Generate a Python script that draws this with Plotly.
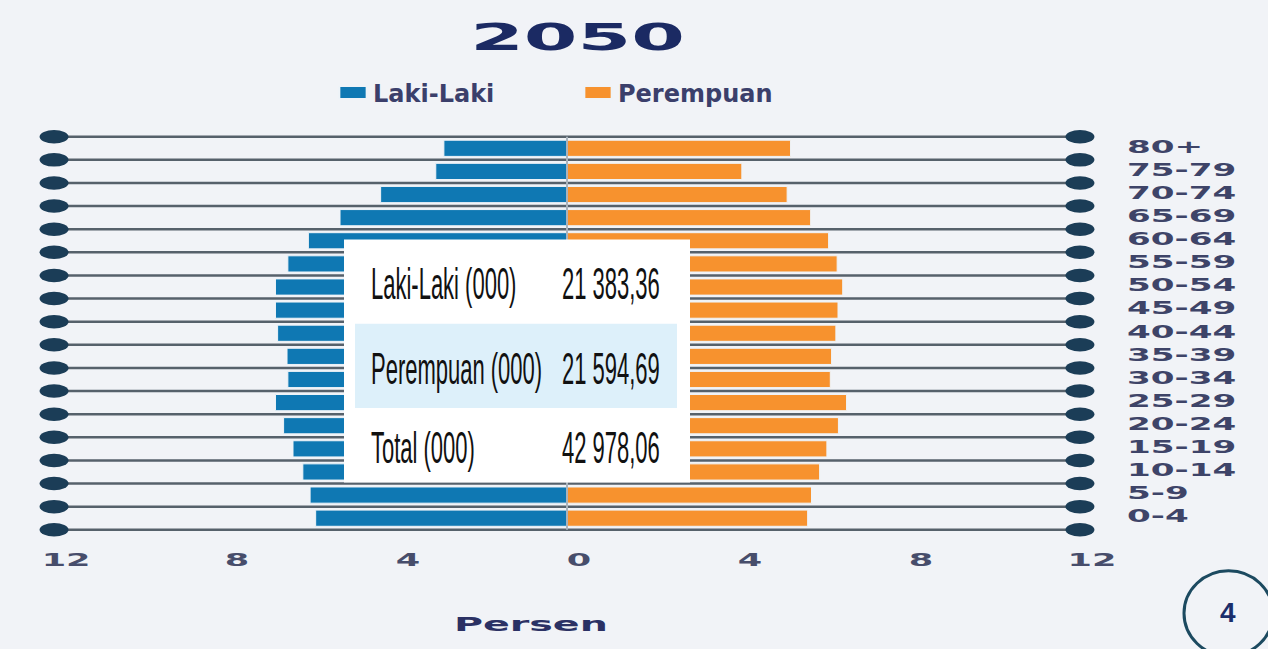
import json
import plotly.graph_objects as go

# ---------------- data ----------------
age_groups = ["0-4", "5-9", "10-14", "15-19", "20-24", "25-29", "30-34", "35-39",
              "40-44", "45-49", "50-54", "55-59", "60-64", "65-69", "70-74", "75-79", "80+"]
male_pct = [5.88, 6.01, 6.18, 6.41, 6.63, 6.82, 6.53, 6.55,
            6.77, 6.82, 6.82, 6.53, 6.05, 5.31, 4.36, 3.07, 2.88]
female_pct = [5.63, 5.72, 5.91, 6.08, 6.35, 6.54, 6.16, 6.19,
              6.29, 6.34, 6.45, 6.32, 6.12, 5.70, 5.15, 4.09, 5.23]
x_tickvals = [-12, -8, -4, 0, 4, 8, 12]
x_ticktext = ["12", "8", "4", "0", "4", "8", "12"]
table_labels = ["Laki-Laki (000)", "Perempuan (000)", "Total (000)"]
table_values = ["21 383,36", "21 594,69", "42 978,06"]
title_text = "2050"
x_title = "Persen"
page_no = "4"

# ---------------- layout geometry ----------------
FW, FH = 1268, 649
ML, MR, MT, MB = 22, 156, 124, 110
PW, PH = FW - ML - MR, FH - MT - MB
XR = [-12.75, 12.75]
YR = [-0.9, 16.9]

def px2x(px):
    return (px - ML) / PW

def py2y(py):
    return 1 - (py - MT) / PH

BLUE = "#0f78b3"
ORANGE = "#f7922e"
NAVY = "#1b2a63"
DOT = "#1b3d57"
GRID = "#56616b"
BOLD = "DejaVu Sans"

idx = list(range(len(age_groups)))

fig = go.Figure()
fig.add_trace(go.Bar(
    y=idx, x=[-v for v in male_pct], orientation="h", name="Laki-Laki",
    marker=dict(color=BLUE, line=dict(color="#eef3f8", width=1)), width=0.7,
    customdata=male_pct, hovertemplate="%{customdata}%<extra>Laki-Laki</extra>",
    legend="legend",
))
fig.add_trace(go.Bar(
    y=idx, x=female_pct, orientation="h", name="Perempuan",
    marker=dict(color=ORANGE, line=dict(color="#eef3f8", width=1)), width=0.7,
    hovertemplate="%{x}%<extra>Perempuan</extra>",
    legend="legend2",
))

shapes = []
n = len(age_groups)
bounds = [i - 0.5 for i in range(n + 1)]
for yb in bounds:
    shapes.append(dict(type="line", xref="x", yref="y", x0=-12, x1=12, y0=yb, y1=yb,
                       line=dict(color=GRID, width=2.5), layer="below"))
# centre line
shapes.append(dict(type="line", xref="x", yref="y", x0=0, x1=0, y0=bounds[0], y1=bounds[-1],
                   line=dict(color="#a9b3bd", width=2), layer="above"))
# end dots (ellipses)
hw, hh = 14.5 / (PW / (XR[1] - XR[0])), 6.8 / (PH / (YR[1] - YR[0]))
for yb in bounds:
    for xe in (-12, 12):
        shapes.append(dict(type="circle", xref="x", yref="y", x0=xe - hw, x1=xe + hw,
                           y0=yb - hh, y1=yb + hh, fillcolor=DOT, line=dict(width=0),
                           layer="above"))
# table overlay
shapes.append(dict(type="rect", xref="paper", yref="paper", x0=px2x(344), x1=px2x(690),
                   y0=py2y(482), y1=py2y(237), fillcolor="white", line=dict(width=0), layer="above"))
shapes.append(dict(type="rect", xref="paper", yref="paper", x0=px2x(355), x1=px2x(677),
                   y0=py2y(407), y1=py2y(322), fillcolor="#ddf0fa", line=dict(width=0), layer="above"))
# page number circle
shapes.append(dict(type="circle", xref="paper", yref="paper", x0=px2x(1184), x1=px2x(1273),
                   y0=py2y(657), y1=py2y(571), fillcolor="rgba(0,0,0,0)",
                   line=dict(color="#1c4a60", width=3), layer="above"))

annotations = []
ann_k = []
row_y = [281, 367, 447]
for lab, val, ry in zip(table_labels, table_values, row_y):
    annotations.append(dict(text=lab, xref="paper", yref="paper", x=px2x(369), y=py2y(ry),
                            xanchor="left", yanchor="middle", align="left", showarrow=False,
                            font=dict(family="Liberation Sans", size=44, color="#111111")))
    ann_k.append(0.5)
    annotations.append(dict(text=val, xref="paper", yref="paper", x=px2x(560), y=py2y(ry),
                            xanchor="left", yanchor="middle", align="left", showarrow=False,
                            font=dict(family="Liberation Sans", size=44, color="#111111")))
    ann_k.append(0.5)
annotations.append(dict(text=x_title, xref="paper", yref="paper", x=px2x(531), y=py2y(624.5),
                        xanchor="center", yanchor="middle", showarrow=False,
                        font=dict(family=BOLD, size=20, color="#2b3164", weight="bold")))
ann_k.append(1.98)
annotations.append(dict(text=page_no, xref="paper", yref="paper", x=px2x(1228), y=py2y(613),
                        xanchor="center", yanchor="middle", showarrow=False,
                        font=dict(family="Liberation Sans", size=28, color="#1b2e6b", weight="bold")))
ann_k.append(1.0)

legend_common = dict(orientation="h", xref="container", yref="container", yanchor="middle",
                     xanchor="left", bgcolor="rgba(0,0,0,0)", borderwidth=0,
                     font=dict(family=BOLD, size=24, color="#3b3f6b", weight="bold"))

fig.update_layout(
    width=FW, height=FH,
    margin=dict(l=ML, r=MR, t=MT, b=MB, pad=0),
    paper_bgcolor="#f1f3f7", plot_bgcolor="rgba(0,0,0,0)",
    barmode="relative", bargap=0.3,
    title=dict(text=title_text, x=577.5 / FW, xref="container", xanchor="center",
               y=1 - 37 / FH, yref="container", yanchor="middle",
               font=dict(family=BOLD, size=38, color=NAVY, weight="bold")),
    showlegend=True,
    legend=dict(x=333 / FW, y=1 - 93 / FH, **legend_common),
    legend2=dict(x=578 / FW, y=1 - 93 / FH, **legend_common),
    xaxis=dict(range=XR, tickvals=x_tickvals, ticktext=x_ticktext, showgrid=False,
               zeroline=False, showline=False, ticks="", ticklabelshift=12,
               ticklabelstandoff=8,
               tickfont=dict(family=BOLD, size=18, color="#474d6b", weight="bold"),
               fixedrange=True),
    yaxis=dict(range=YR, tickvals=idx, ticktext=age_groups, side="right", showgrid=False,
               zeroline=False, showline=False, ticks="", ticklabelstandoff=14,
               ticklabelshift=-2,
               tickfont=dict(family=BOLD, size=18, color="#3e4468", weight="bold"),
               fixedrange=True),
    shapes=shapes, annotations=annotations,
)

# The reference artwork is horizontally stretched; stretch the SVG text to match.
post_script = """
(function(){
document.body.style.margin = '0';
document.body.style.padding = '0';
var gd = document.querySelector('.js-plotly-plot');
if(!gd) return;
function st(el, k, mode){
  var bb; try { bb = el.getBBox(); } catch(e) { return; }
  if (mode === 'auto') {
    var a = el.getAttribute('text-anchor') || 'start';
    mode = a === 'middle' ? 'c' : (a === 'end' ? 'r' : 'l');
  }
  var cx = mode === 'c' ? bb.x + bb.width/2 : (mode === 'r' ? bb.x + bb.width : bb.x);
  var t = el.getAttribute('transform') || '';
  el.setAttribute('transform', t + ' translate(' + cx + ',0) scale(' + k + ',1) translate(' + (-cx) + ',0)');
}
gd.querySelectorAll('.gtitle').forEach(function(e){ st(e, 2.03, 'c'); });
gd.querySelectorAll('.xtick text').forEach(function(e){ st(e, 1.95, 'c'); });
gd.querySelectorAll('.ytick text').forEach(function(e){ st(e, 1.9, 'l'); });
gd.querySelectorAll('.legendpoints path').forEach(function(e){ st(e, 2.3, 'c'); });
var AK = %s;
gd.querySelectorAll('.annotation-text').forEach(function(e, i){ st(e, AK[i] || 1, 'auto'); });
})();
""" % json.dumps(ann_k)

fig.write_html("out.html", post_script=post_script, config={"displayModeBar": False})
